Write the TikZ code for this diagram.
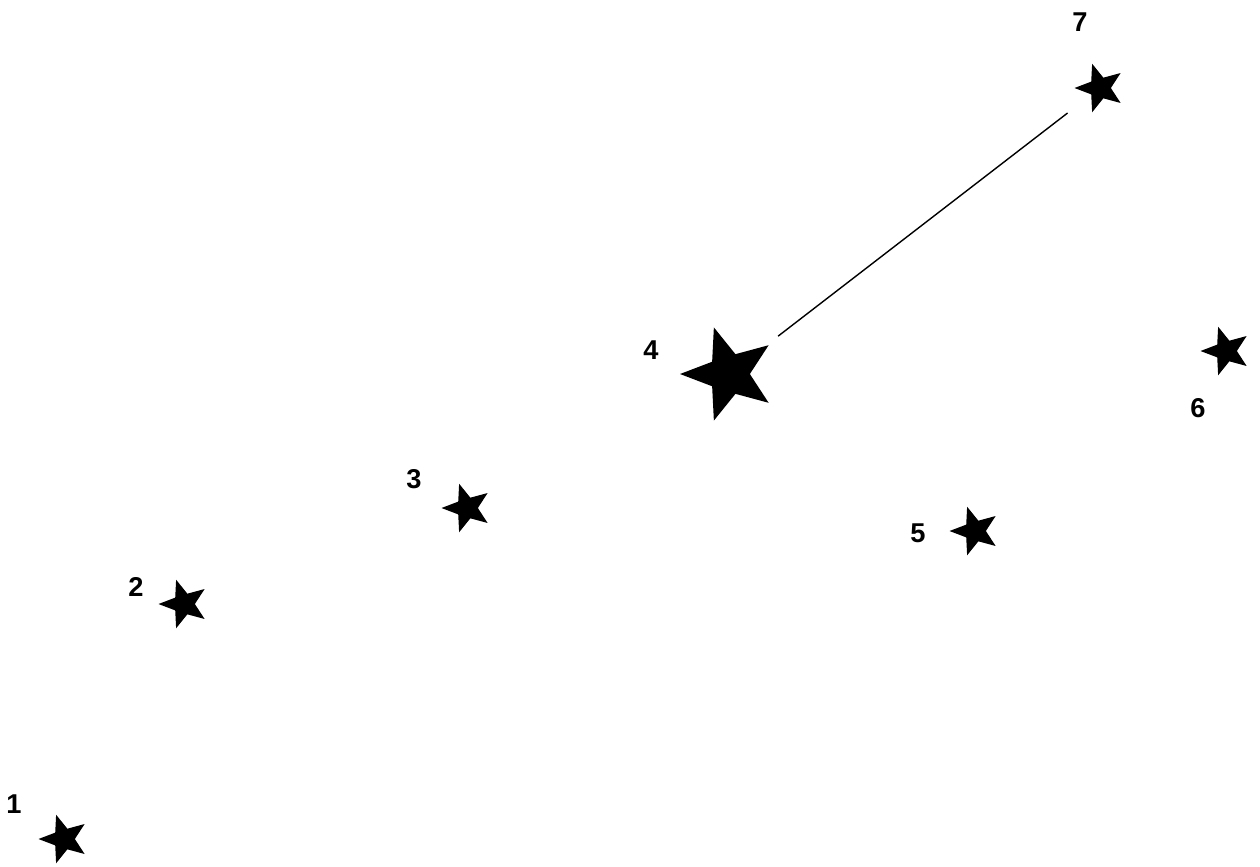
\documentclass[tikz,border=0pt]{standalone}
\usepackage{fontspec}
\setmainfont{Liberation Sans}
\usepackage{tikz}
\usetikzlibrary{shapes.geometric}

\begin{document}
\begin{tikzpicture}[x=0.02cm,y=-0.02cm,
  pt/.style={star,star points=5,star point ratio=2.35,rotate=18,fill=black,inner sep=0pt,minimum size=1.02cm},
  bigpt/.style={pt,minimum size=1.96cm},
  lab/.style={font=\fontsize{15.5}{18}\selectfont\bfseries,inner sep=0pt}]
\useasboundingbox (0,0) rectangle (1260,866);
% stars
\node[pt] (s1) at (64,839) {};
\node[pt] (s2) at (184,604) {};
\node[pt] (s3) at (467,508) {};
\node[bigpt] (s4) at (729,374) {};
\node[pt] (s5) at (975,531) {};
\node[pt] (s6) at (1226,351) {};
\node[pt] (s7) at (1100,88) {};
% numbers
\node[lab] (n1) at (14,804) {1};
\node[lab] (n2) at (136,587) {2};
\node[lab] (n3) at (414,479) {3};
\node[lab] (n4) at (651,350) {4};
\node[lab] (n5) at (918,533) {5};
\node[lab] (n6) at (1198,408) {6};
\node[lab] (n7) at (1080,22) {7};
\draw[line width=0.8pt,shorten <=1.24cm,shorten >=0.82cm] (s4.center) -- (s7.center);
\end{tikzpicture}
\end{document}
